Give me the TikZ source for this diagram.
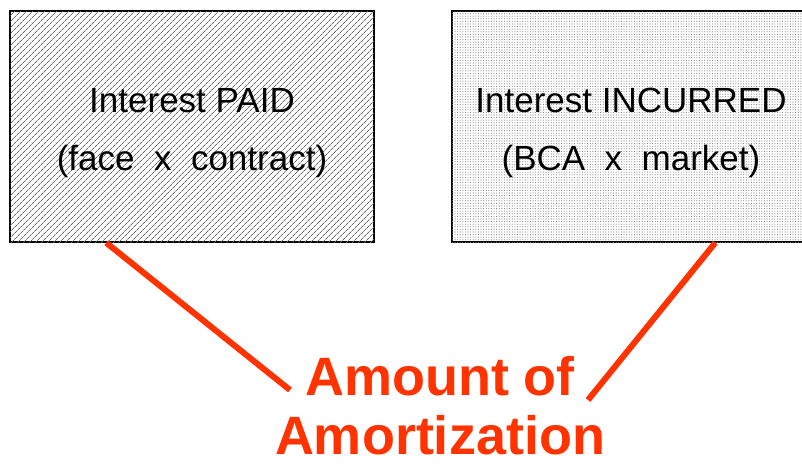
\documentclass[tikz,border=0pt]{standalone}
\usepackage{fontspec}
\setmainfont{Liberation Sans}
\usetikzlibrary{patterns.meta}
\definecolor{amortred}{HTML}{FF3300}
\tikzset{
	box/.style = {
		draw = black,
		line width = 1.5pt,
		rectangle,
		minimum height = 231pt
	},
	hatched/.style = {
		fill = white,
		postaction = {pattern = {Lines[angle=45, distance=4pt, line width=0.7pt]}, pattern color = gray!80!black}
	},
	dotted fill/.style = {
		fill = white,
		postaction = {pattern = {Dots[distance=2.6pt, radius=0.55pt]}, pattern color = gray}
	},
	boxtext/.style = {
		align = center,
		inner sep = 0pt,
		font = \fontsize{35}{58}\selectfont
	},
	amortline/.style = {
		draw = amortred,
		line width = 6pt
	}
}

\begin{document}
\begin{tikzpicture}[x=1pt, y=-1pt]
    \useasboundingbox (0,0) rectangle (802,466) ;
    \node [box, hatched, minimum width = 364pt] (paid) at (192,126.5) {} ;
    \node [box, dotted fill, minimum width = 358pt] (incurred) at (631,126.5) {} ;
    \node [boxtext] (paidtext) at ([yshift=-6.5pt]paid.center) {Interest PAID\\(face~~x~~contract)} ;
    \node [boxtext] (incurredtext) at ([yshift=-6.5pt]incurred.center) {Interest INCURRED\\(BCA~~x~~market)} ;

    \node [align = center, inner sep = 0pt, text = amortred, font = \bfseries\fontsize{54}{59}\selectfont] (amort) at (440,406) {Amount of\\Amortization} ;
    \coordinate (amortleft) at (290,390) ;
    \coordinate (amortright) at (588,400) ;

    \draw [amortline] ([xshift=97pt]paid.south west) -- (amortleft) ;
    \draw [amortline] ([xshift=264pt]incurred.south west) -- (amortright) ;
\end{tikzpicture}
\end{document}
